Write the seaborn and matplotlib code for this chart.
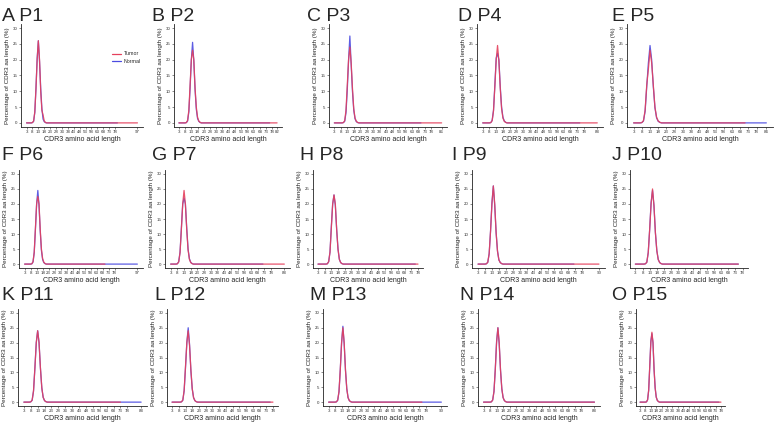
import matplotlib
matplotlib.use("Agg")
import matplotlib.pyplot as plt
from matplotlib.lines import Line2D
import pandas as pd
import seaborn as sns

# Panels
panel_letters = ["A", "B", "C", "D", "E", "F", "G", "H", "I", "J", "K", "L", "M", "N", "O"]
patients = ["P1", "P2", "P3", "P4", "P5", "P6", "P7", "P8", "P9", "P10", "P11", "P12", "P13", "P14", "P15"]

# CDR3 lengths covered by the peak values below (8..21 aa)
peak_lengths = [8, 9, 10, 11, 12, 13, 14, 15, 16, 17, 18, 19, 20, 21]

# Percentage of CDR3 per length (outside this window the curves sit at 0)
tumor_peaks = [
    [0.1, 0.6, 3.5, 11, 20, 26, 20, 10, 4, 2.5, 0.6, 0.15, 0, 0],
    [0, 0.1, 0.8, 4, 12, 20, 23, 20, 11, 5, 1.8, 0.6, 0.2, 0],
    [0, 0, 0.1, 0.7, 4, 12, 20, 24, 19, 11, 4.5, 1.5, 0.5, 0.15],
    [0, 0.1, 0.7, 3.8, 11.5, 20, 24.5, 19.5, 11, 4.5, 1.5, 0.5, 0.15, 0],
    [0.1, 0.7, 4, 12, 17, 23, 19, 12, 5, 1.8, 0.6, 0.2, 0, 0],
    [0, 0.1, 0.8, 4, 12, 20, 22.5, 20, 11.5, 5, 1.8, 0.6, 0.2, 0],
    [0.1, 0.7, 3.8, 11.5, 20, 24.5, 20, 11.5, 4.8, 1.6, 0.5, 0.15, 0, 0],
    [0, 0, 0.1, 0.8, 4, 12, 20, 23, 20, 11.5, 5, 1.6, 0.5, 0.15],
    [0, 0.1, 0.6, 3.5, 11, 20, 26, 20, 10.5, 4.3, 1.4, 0.5, 0.15, 0],
    [0, 0, 0.1, 0.6, 3.8, 11.5, 20, 25, 19.5, 10.5, 4.5, 1.5, 0.5, 0.15],
    [0.1, 0.7, 3.8, 11.5, 20, 24, 20, 11.5, 4.8, 1.6, 0.5, 0.15, 0, 0],
    [0, 0, 0.1, 0.7, 4, 12, 20, 24, 19, 11, 4.5, 1.5, 0.5, 0.15],
    [0, 0.1, 0.7, 3.6, 11, 20, 25, 20, 10.8, 4.5, 1.5, 0.5, 0.15, 0],
    [0, 0.1, 0.7, 3.6, 11, 20, 25, 20, 10.8, 4.5, 1.5, 0.5, 0.15, 0],
    [0, 0.1, 0.8, 4, 12, 20, 23.5, 20, 11, 4.8, 1.7, 0.6, 0.2, 0],
]
normal_peaks = [
    [0.1, 0.5, 3.3, 11, 20.5, 26, 19.5, 11, 4.5, 1.2, 0.4, 0.1, 0, 0],
    [0, 0.1, 0.6, 3.5, 11, 20, 25.5, 19.5, 10.5, 4.3, 1.4, 0.5, 0.15, 0],
    [0, 0, 0.1, 0.5, 3.2, 10.5, 20, 27.5, 18.5, 10, 4, 1.3, 0.4, 0.1],
    [0, 0.1, 0.8, 4, 12, 20.5, 22, 20, 11.5, 5, 1.8, 0.6, 0.2, 0],
    [0.1, 0.6, 3.6, 11.5, 19, 24.5, 20, 11.5, 4.8, 1.6, 0.5, 0.15, 0, 0],
    [0, 0.1, 0.7, 3.8, 11.5, 20, 24.5, 19.5, 11, 4.5, 1.5, 0.5, 0.15, 0],
    [0.1, 0.8, 4, 12, 20, 22, 20, 12, 5, 1.8, 0.6, 0.2, 0, 0],
    [0, 0, 0.1, 0.8, 4, 12.5, 20, 23, 19.5, 11.5, 5, 1.6, 0.5, 0.15],
    [0, 0.1, 0.6, 3.4, 11, 20.5, 26, 19.5, 10.5, 4.3, 1.4, 0.5, 0.15, 0],
    [0, 0, 0.1, 0.6, 3.8, 11.5, 20.5, 24.5, 19.5, 10.5, 4.5, 1.5, 0.5, 0.15],
    [0.1, 0.6, 3.7, 11.5, 20, 24, 20, 11.5, 4.8, 1.6, 0.5, 0.15, 0, 0],
    [0, 0, 0.1, 0.6, 3.8, 11.5, 20, 25, 19.5, 10.5, 4.5, 1.5, 0.5, 0.15],
    [0, 0.1, 0.6, 3.5, 11, 20, 25.5, 19.5, 10.7, 4.5, 1.5, 0.5, 0.15, 0],
    [0, 0.1, 0.7, 3.6, 11, 20.5, 25, 19.5, 10.8, 4.5, 1.5, 0.5, 0.15, 0],
    [0, 0.1, 0.8, 4, 12, 20.5, 23, 20, 11, 4.8, 1.7, 0.6, 0.2, 0],
]

# Longest CDR3 per sample and per panel axis
tumor_max_len = [97, 82, 86, 88, 71, 70, 88, 78, 90, 75, 73, 78, 75, 88, 78]
normal_max_len = [80, 76, 70, 75, 84, 97, 72, 76, 72, 75, 88, 76, 90, 88, 76]
axis_max_len = [97, 82, 86, 88, 84, 97, 88, 78, 90, 78, 88, 78, 90, 88, 78]

colors = {"Normal": "#4B4BE0", "Tumor": "#E5405C"}

# panel boxes in pixels: left, right, top, bottom (of a 778x423 canvas)
W, H = 778, 423
boxes = [
    (21, 143, 24, 127), (174, 282, 24, 127), (329, 447, 24, 127), (477, 603, 24, 127), (627, 773, 24, 127),
    (19, 143, 170, 268), (165, 290, 170, 268), (313, 423, 170, 268), (472, 605, 170, 268), (630, 748, 170, 268),
    (18, 147, 309, 406), (167, 278, 309, 406), (323, 447, 309, 406), (478, 600, 309, 406), (636, 725, 309, 406),
]
title_x = [2, 152, 307, 458, 612, 2, 152, 300, 452, 612, 2, 155, 310, 460, 612]
title_y = [21, 21, 21, 21, 21, 160, 160, 160, 160, 160, 300, 300, 300, 300, 300]


def sample_frame(peaks, max_len, group):
    rows = []
    for length in range(3, max_len + 1):
        if length in peak_lengths:
            val = peaks[peak_lengths.index(length)]
        else:
            val = 0
        rows.append({"length": length, "pct": val, "group": group})
    return pd.DataFrame(rows)


sns.set_style("ticks")
plt.rcParams['font.family'] = ['Liberation Sans', 'DejaVu Sans']

fig = plt.figure(figsize=(W / 100, H / 100), dpi=100)

for i, p in enumerate(patients):
    l, r, t, b = boxes[i]
    ax = fig.add_axes([l / W, 1 - b / H, (r - l) / W, (b - t) / H])

    df = pd.concat([
        sample_frame(normal_peaks[i], normal_max_len[i], "Normal"),
        sample_frame(tumor_peaks[i], tumor_max_len[i], "Tumor"),
    ])
    sns.lineplot(data=df, x="length", y="pct", hue="group", hue_order=["Normal", "Tumor"],
                 palette=colors, linewidth=0.9, alpha=0.9, legend=False, ax=ax)

    # ticks every 5 from 3 up to 78, then the longest length
    xmax = axis_max_len[i]
    ticks = list(range(3, min(xmax, 78) + 1, 5))
    if xmax > ticks[-1]:
        ticks.append(xmax)
    pad = (xmax - 3) * 0.05
    ax.set_xlim(3 - pad, xmax + pad)
    ax.set_ylim(-1.3, 31.3)
    ax.set_xticks(ticks)
    ax.set_yticks([0, 5, 10, 15, 20, 25, 30])
    ax.tick_params(labelsize=3.2, length=1.5, width=0.4, pad=1, colors="#333333")
    ax.set_xlabel("CDR3 amino acid length", fontsize=5, labelpad=0.8)
    ax.set_ylabel("Percentage of CDR3 aa length (%)", fontsize=4.5, labelpad=2)
    sns.despine(ax=ax)
    for s in ["left", "bottom"]:
        ax.spines[s].set_linewidth(0.6)
        ax.spines[s].set_color("#222222")

    fig.text(title_x[i] / W, 1 - title_y[i] / H, f"{panel_letters[i]} {p}", fontsize=14,
             ha="left", va="baseline")

    if i == 0:
        handles = [Line2D([], [], color=colors["Tumor"], lw=0.9),
                   Line2D([], [], color=colors["Normal"], lw=0.9)]
        ax.legend(handles, ["Tumor", "Normal"], loc="upper right", bbox_to_anchor=(1.02, 0.78),
                  fontsize=3.8, frameon=False, handlelength=1.6, handletextpad=0.5,
                  labelspacing=0.4)

fig.savefig("out.png", dpi=100)
